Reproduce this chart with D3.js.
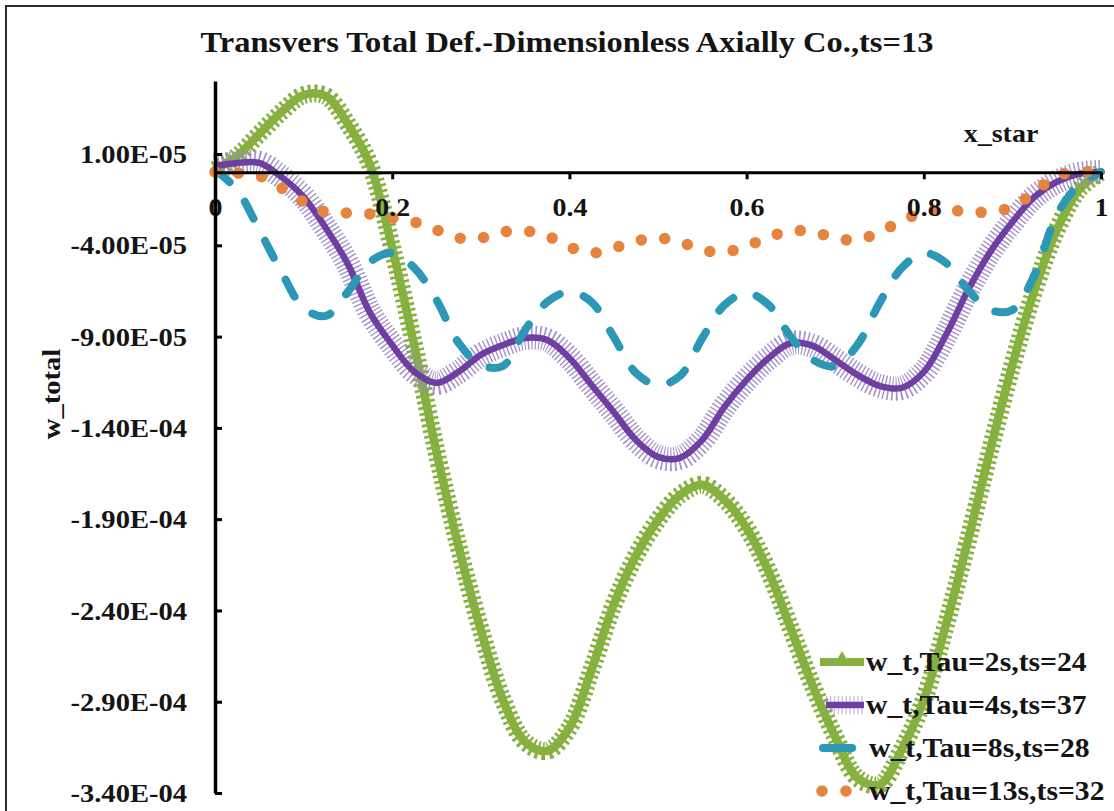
<!DOCTYPE html>
<html>
<head>
<meta charset="utf-8">
<script src="https://cdn.jsdelivr.net/npm/d3@7"></script>
<style>
  body { margin: 0; background: #fff; }
  svg text { font-family: "Liberation Serif", "Times New Roman", serif; font-weight: bold; fill: #141414; }
</style>
</head>
<body>
<svg id="chart" width="1114" height="811"></svg>
<script>
// Dimensionless position along the beam
const xStar = [0, 0.025, 0.05, 0.075, 0.1, 0.125, 0.15, 0.175, 0.2, 0.225,
  0.25, 0.275, 0.3, 0.325, 0.35, 0.375, 0.4, 0.425, 0.45, 0.475,
  0.5, 0.525, 0.55, 0.575, 0.6, 0.625, 0.65, 0.675, 0.7, 0.725,
  0.75, 0.775, 0.8, 0.825, 0.85, 0.875, 0.9, 0.925, 0.95, 0.975, 1];

// Total transverse deflection, in units of 1e-5
const UNIT = 1e-5;
const wTau2 = [0.13, 0.89, 2.10, 3.30, 4.23, 4.18, 2.64, 0.40, -4.15, -9.51,
  -15.32, -20.52, -25.06, -28.90, -31.20, -31.69, -30.43, -27.25, -23.69, -21.01,
  -19.04, -17.67, -17.12, -17.94, -19.49, -21.89, -25.01, -28.18, -30.92, -33.17,
  -33.55, -31.63, -28.90, -24.79, -20.14, -15.21, -10.55, -6.45, -3.16, -0.97, 0.02];
const wTau4 = [0.34, 0.51, 0.51, -0.26, -1.35, -3.05, -5.03, -7.70, -9.46, -10.93,
  -11.54, -10.93, -10.00, -9.46, -9.08, -9.19, -10.17, -11.65, -13.13, -14.66,
  -15.59, -15.64, -14.66, -12.85, -11.37, -10.17, -9.35, -9.51, -10.28, -11.10,
  -11.70, -11.81, -10.93, -8.91, -6.45, -4.36, -2.72, -1.35, -0.53, -0.09, 0.02];
const wTau8 = [0.13, -0.97, -3.16, -5.46, -7.43, -7.87, -6.55, -4.91, -4.42, -5.24,
  -6.99, -9.35, -10.55, -10.61, -8.64, -7.10, -6.55, -7.10, -9.02, -10.99,
  -11.65, -11.15, -9.08, -7.27, -6.61, -7.27, -9.02, -10.28, -10.61, -9.46,
  -7.16, -5.24, -4.42, -4.96, -6.45, -7.54, -7.54, -5.62, -2.34, -0.70, 0.02];
const wTau13 = [0.02, -0.04, -0.20, -0.86, -1.63, -2.17, -2.23, -2.28, -2.50, -2.72,
  -3.16, -3.60, -3.60, -3.27, -3.21, -3.49, -4.09, -4.42, -4.15, -3.77,
  -3.60, -3.82, -4.26, -4.37, -4.04, -3.55, -3.21, -3.27, -3.60, -3.71,
  -3.27, -2.67, -2.17, -2.06, -2.17, -2.17, -1.90, -1.08, -0.20, 0.02, 0.02];

const seriesNames = ["w_t,Tau=2s,ts=24", "w_t,Tau=4s,ts=37", "w_t,Tau=8s,ts=28", "w_t,Tau=13s,ts=32"];

// Axis ticks and labels
const xTicks = [0, 0.2, 0.4, 0.6, 0.8, 1];
const xTickLabels = ["0", "0.2", "0.4", "0.6", "0.8", "1"];
const yTicks = [1e-5, -4e-5, -9e-5, -1.4e-4, -1.9e-4, -2.4e-4, -2.9e-4, -3.4e-4];
const yTickLabels = ["1.00E-05", "-4.00E-05", "-9.00E-05", "-1.40E-04", "-1.90E-04", "-2.40E-04", "-2.90E-04", "-3.40E-04"];
const yDomain = [-3.4e-4, 5e-5];

const titleText = "Transvers Total Def.-Dimensionless Axially Co.,ts=13";
const xTitle = "x_star";
const yTitle = "w_total";

const svg = d3.select("#chart");
const SX = 1.12; // horizontal text stretch

svg.append("rect").attr("x", 0).attr("y", 0).attr("width", 1114).attr("height", 811).attr("fill", "#fff");
svg.append("rect").attr("x", 6).attr("y", 6).attr("width", 1130).attr("height", 830)
  .attr("fill", "none").attr("stroke", "#2a2a2a").attr("stroke-width", 2);

const x = d3.scaleLinear().domain([0, 1]).range([215, 1101]);
const y = d3.scaleLinear().domain(yDomain).range([793, 81]);

function stretchedText(parent, px, py, str, size, anchor) {
  return parent.append("text")
    .attr("transform", `translate(${px},${py}) scale(${SX},1)`)
    .attr("text-anchor", anchor || "start")
    .style("font-size", size + "px")
    .text(str);
}

// Axes
const gx = svg.append("g").attr("transform", `translate(0,${y(0)})`)
  .call(d3.axisBottom(x).tickValues(xTicks).tickFormat((d, i) => xTickLabels[i]).tickSize(7).tickSizeOuter(0));
gx.select(".domain").attr("stroke", "#000").attr("stroke-width", 3);
gx.selectAll(".tick line").attr("stroke", "#000").attr("stroke-width", 3);
gx.selectAll(".tick text").attr("y", 44).attr("dy", 0)
  .attr("transform", `scale(${SX},1)`).style("font-size", "25px").attr("fill", "#141414");

const gy = svg.append("g").attr("transform", `translate(${x(0)},0)`)
  .call(d3.axisRight(y).tickValues(yTicks).tickFormat((d, i) => yTickLabels[i]).tickSize(7).tickSizeOuter(0));
gy.select(".domain").attr("stroke", "#000").attr("stroke-width", 3.5);
gy.selectAll(".tick line").attr("stroke", "#000").attr("stroke-width", 3);
gy.selectAll(".tick text").attr("x", -25).attr("dy", "0.34em").attr("text-anchor", "end")
  .attr("transform", `scale(${SX},1)`).style("font-size", "25.5px").attr("fill", "#141414");
[gx, gy].forEach(g => g.attr("font-family", null).attr("font-size", null));

// Series
const lineGen = vals => d3.line()
  .x((d, i) => x(xStar[i]))
  .y(d => y(d * UNIT))
  .curve(d3.curveCatmullRom.alpha(0.5))(vals);

const plot = svg.insert("g", () => gx.node());

const GREEN = "#86b140", PURPLE = "#6e3fa0", PURPLE_MK = "#9984c4", TEAL = "#2b98b6", ORANGE = "#e5843c";

// Tau=2s: line with dense triangle markers
plot.append("path").attr("d", lineGen(wTau2)).attr("fill", "none")
  .attr("stroke", GREEN).attr("stroke-width", 18).attr("stroke-dasharray", "2.6 3.2");
plot.append("path").attr("d", lineGen(wTau2)).attr("fill", "none")
  .attr("stroke", GREEN).attr("stroke-width", 8.5).attr("stroke-linejoin", "round");

// Tau=4s: line with dense cross markers
plot.append("path").attr("d", lineGen(wTau4)).attr("fill", "none")
  .attr("stroke", PURPLE_MK).attr("stroke-width", 24).attr("stroke-dasharray", "1.4 2.5").attr("opacity", 0.9);
plot.append("path").attr("d", lineGen(wTau4)).attr("fill", "none")
  .attr("stroke", PURPLE).attr("stroke-width", 6.5).attr("stroke-linejoin", "round");

// Tau=8s: long dashes
plot.append("path").attr("d", lineGen(wTau8)).attr("fill", "none")
  .attr("stroke", TEAL).attr("stroke-width", 8).attr("stroke-linecap", "round")
  .attr("stroke-dasharray", "19 25");

// Tau=13s: round dots
plot.append("path").attr("d", lineGen(wTau13)).attr("fill", "none")
  .attr("stroke", ORANGE).attr("stroke-width", 11.5).attr("stroke-linecap", "round")
  .attr("stroke-dasharray", "0 23.5");

// Titles
stretchedText(svg, 567, 52, titleText, 29, "middle");
stretchedText(svg, 1001, 142, xTitle, 25, "middle");
svg.append("text").attr("transform", `translate(60,394) rotate(-90) scale(${SX},1)`)
  .attr("text-anchor", "middle").style("font-size", "25.5px").text(yTitle);

// Legend
const legendY = [662, 705, 748, 791];
const lg = svg.append("g");
// entry 1
lg.append("line").attr("x1", 820).attr("x2", 864).attr("y1", legendY[0]).attr("y2", legendY[0])
  .attr("stroke", GREEN).attr("stroke-width", 8);
lg.append("path").attr("d", d3.symbol(d3.symbolTriangle, 130)())
  .attr("transform", `translate(842,${legendY[0] - 1})`).attr("fill", GREEN);
// entry 2
lg.append("line").attr("x1", 826).attr("x2", 864).attr("y1", legendY[1]).attr("y2", legendY[1])
  .attr("stroke", PURPLE_MK).attr("stroke-width", 18).attr("stroke-dasharray", "1.4 2.5").attr("opacity", 0.5);
lg.append("line").attr("x1", 826).attr("x2", 864).attr("y1", legendY[1]).attr("y2", legendY[1])
  .attr("stroke", PURPLE).attr("stroke-width", 6.5);
// entry 3
lg.append("line").attr("x1", 823).attr("x2", 852).attr("y1", legendY[2]).attr("y2", legendY[2])
  .attr("stroke", TEAL).attr("stroke-width", 8).attr("stroke-linecap", "round");
// entry 4: two round dots
lg.append("line").attr("x1", 822).attr("x2", 850).attr("y1", legendY[3]).attr("y2", legendY[3])
  .attr("stroke", ORANGE).attr("stroke-width", 11.5).attr("stroke-linecap", "round").attr("stroke-dasharray", "0 24");
seriesNames.forEach((s, i) => {
  stretchedText(lg, i < 2 ? 866 : 869, legendY[i] + 9, s, 26.5, "start");
});
</script>
</body>
</html>
